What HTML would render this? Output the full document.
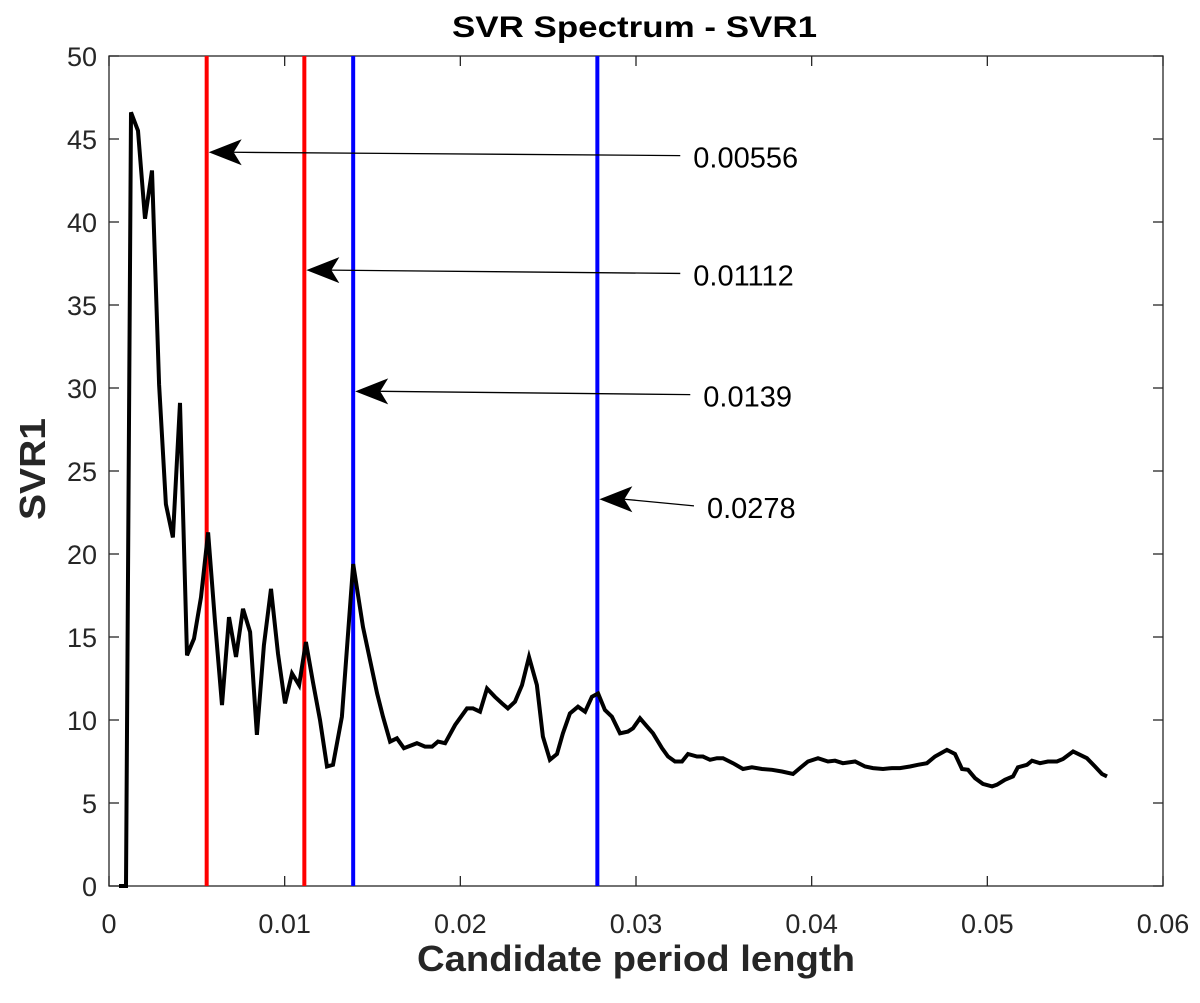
<!DOCTYPE html>
<html><head><meta charset="utf-8"><style>
body{margin:0;background:#fff}
svg text{font-family:"Liberation Sans",sans-serif;fill:#262626}
</style></head><body>
<svg id="chart" width="1200" height="998" viewBox="0 0 1200 998" xmlns="http://www.w3.org/2000/svg">
<rect width="1200" height="998" fill="#fff"/>
<g id="g"></g>
</svg>
<script>
const xVals=[0.00057,0.00097,0.00125,0.00165,0.00205,0.00245,0.00285,0.00324,0.00364,0.00404,0.00444,0.00484,0.00524,0.00564,0.00603,0.00643,0.00683,0.00723,0.00763,0.00803,0.00842,0.00882,0.00922,0.00962,0.01002,0.01042,0.01082,0.01121,0.01161,0.01201,0.01241,0.01275,0.01326,0.0139,0.01446,0.01526,0.0156,0.016,0.01639,0.01679,0.01753,0.01799,0.01839,0.01873,0.01913,0.0197,0.02038,0.02072,0.02112,0.02152,0.02197,0.02237,0.02271,0.02311,0.02351,0.02391,0.02436,0.0247,0.0251,0.0255,0.02584,0.02624,0.0267,0.0271,0.02749,0.02784,0.02823,0.02863,0.02909,0.02954,0.02983,0.03023,0.03063,0.03097,0.03148,0.03182,0.03222,0.03262,0.03296,0.03347,0.03381,0.03421,0.03461,0.03495,0.03552,0.03609,0.0366,0.03717,0.03774,0.03831,0.03894,0.03933,0.03979,0.04036,0.04093,0.04133,0.04178,0.04247,0.04304,0.04349,0.04406,0.04457,0.04503,0.0456,0.04605,0.04656,0.04702,0.0477,0.04816,0.04856,0.0489,0.0493,0.04975,0.05027,0.05055,0.051,0.05146,0.05174,0.05226,0.05254,0.053,0.05345,0.05396,0.05431,0.05488,0.05567,0.05613,0.05653,0.05681];
const yVals=[0,0,46.6,45.5,40.2,43.1,30.2,23,21,29.1,13.9,14.9,17.4,21.3,16,10.9,16.2,13.8,16.7,15.3,9.1,14.5,17.9,14,11,12.8,12.1,14.7,12.3,10,7.2,7.3,10.2,19.4,15.6,11.6,10.2,8.7,8.9,8.3,8.6,8.4,8.4,8.7,8.6,9.7,10.7,10.7,10.5,11.9,11.4,11.0,10.7,11.1,12.1,13.8,12.1,9.0,7.6,7.95,9.2,10.4,10.8,10.5,11.4,11.6,10.6,10.2,9.2,9.3,9.5,10.1,9.6,9.2,8.3,7.8,7.5,7.5,7.95,7.8,7.8,7.6,7.7,7.7,7.4,7.05,7.15,7.05,7.0,6.9,6.75,7.1,7.5,7.7,7.5,7.55,7.4,7.5,7.2,7.1,7.05,7.1,7.1,7.2,7.3,7.4,7.8,8.2,7.95,7.05,7.0,6.5,6.15,6.0,6.1,6.4,6.6,7.15,7.3,7.55,7.4,7.5,7.5,7.65,8.1,7.7,7.2,6.75,6.6];
const xTicks=[0,0.01,0.02,0.03,0.04,0.05,0.06];
const xTickLabels=["0","0.01","0.02","0.03","0.04","0.05","0.06"];
const yTicks=[0,5,10,15,20,25,30,35,40,45,50];
const redLines=[0.00556,0.01112];
const blueLines=[0.0139,0.0278];
const annX=[0.00556,0.01112,0.0139,0.0278];
const annY=[44.2,37.1,29.8,23.3];
const annLabels=["0.00556","0.01112","0.0139","0.0278"];
const annTailY=[44.0,36.9,29.6,22.9];
const annTailX=[0.03252,0.03252,0.03309,0.0333];

const L=109,R=1163,T=56,B=886;
const sx=v=>L+v/0.06*(R-L);
const sy=v=>B-v/50*(B-T);
const g=document.getElementById('g');
const NS='http://www.w3.org/2000/svg';
function mk(t,a,p){const e=document.createElementNS(NS,t);for(const k in a)e.setAttribute(k,a[k]);(p||g).appendChild(e);return e;}

const box=mk('rect',{x:L,y:T,width:R-L,height:B-T,fill:'none',stroke:'#262626','stroke-width':1.3});



xTicks.forEach((v,i)=>{
 const t=mk('line',{x1:sx(v),x2:sx(v),y1:B,y2:B-10,stroke:'#262626','stroke-width':1.3});
 
 
 const t2=mk('line',{x1:sx(v),x2:sx(v),y1:T,y2:T+10,stroke:'#262626','stroke-width':1.3});
 
 
 const l=mk('text',{x:sx(v),y:B+47,'text-anchor':'middle','font-size':27});
 l.textContent=xTickLabels[i];
 
 
});
yTicks.forEach(v=>{
 const t=mk('line',{x1:L,x2:L+10,y1:sy(v),y2:sy(v),stroke:'#262626','stroke-width':1.3});
 
 
 const t2=mk('line',{x1:R,x2:R-10,y1:sy(v),y2:sy(v),stroke:'#262626','stroke-width':1.3});
 
 
 const l=mk('text',{x:L-12,y:sy(v)+10,'text-anchor':'end','font-size':27});
 l.textContent=String(v);
 
 
});

redLines.forEach(v=>{
 const e=mk('line',{x1:sx(v),x2:sx(v),y1:T,y2:B,stroke:'#ff0000','stroke-width':4});
 
 
});
blueLines.forEach(v=>{
 const e=mk('line',{x1:sx(v),x2:sx(v),y1:T,y2:B,stroke:'#0000ff','stroke-width':4});
 
 
});

const pts=xVals.map((x,i)=>sx(x).toFixed(1)+','+sy(yVals[i]).toFixed(1)).join(' ');
const line=mk('polyline',{points:pts,fill:'none',stroke:'#000','stroke-width':4,'stroke-linejoin':'miter','stroke-miterlimit':4});



annX.forEach((v,i)=>{
 const hx=sx(v)+2,hy=sy(annY[i]);
 const tx=sx(annTailX[i]),ty=sy(annTailY[i]);
 const ln=mk('line',{x1:tx,y1:ty,x2:hx+25,y2:hy,stroke:'#000','stroke-width':1.3});
 
 
 const ah=mk('polygon',{points:`${hx},${hy} ${hx+33},${hy-13} ${hx+25},${hy} ${hx+33},${hy+13}`,fill:'#000'});
 
 
 const t=mk('text',{x:tx+13,y:ty+12,'font-size':29,style:'fill:#000'});
 t.textContent=annLabels[i];
 
 
});

const title=mk('text',{x:452,y:37,'font-size':30,'font-weight':'bold',textLength:365,lengthAdjust:'spacingAndGlyphs',style:'fill:#000'});
title.textContent='SVR Spectrum - SVR1';


const xl=mk('text',{x:417,y:971,'font-size':36,'font-weight':'bold',textLength:438,lengthAdjust:'spacingAndGlyphs'});
xl.textContent='Candidate period length';


const yl=mk('text',{x:0,y:0,'text-anchor':'middle','font-size':36,'font-weight':'bold',textLength:102,lengthAdjust:'spacingAndGlyphs',transform:`translate(45,469) rotate(-90)`});
yl.textContent='SVR1';


</script>
</body></html>
